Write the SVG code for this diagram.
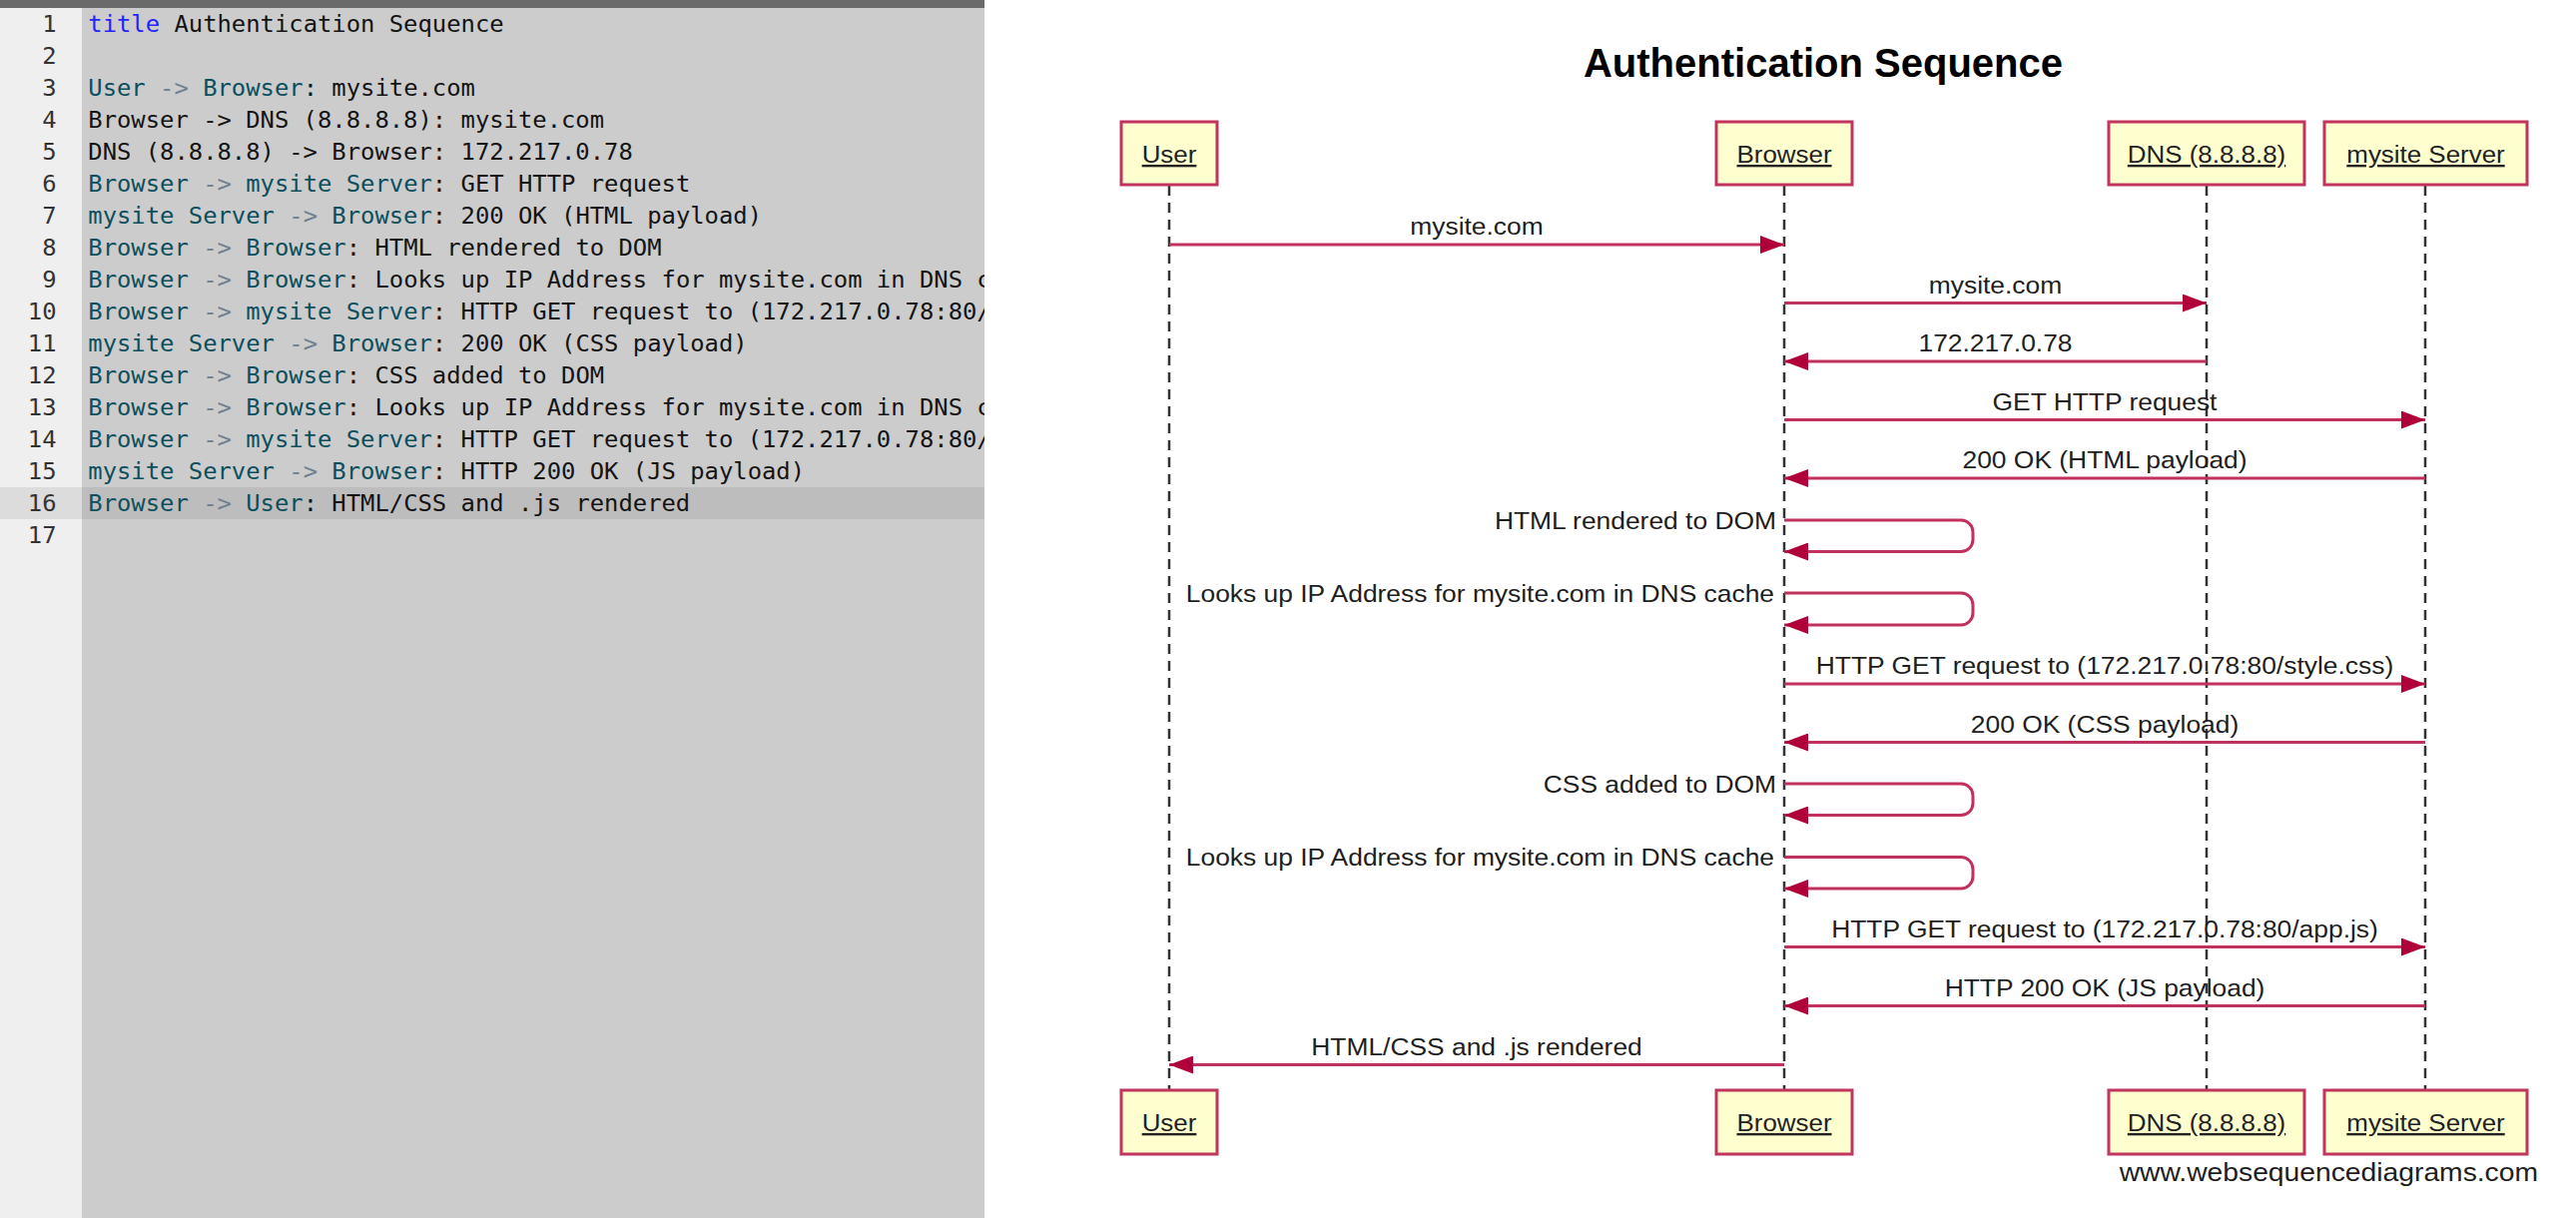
<svg xmlns="http://www.w3.org/2000/svg" width="2580" height="1220" viewBox="0 0 2580 1220">
<style>
.code{font-family:"DejaVu Sans Mono","Liberation Mono",monospace;font-size:23.85px;fill:#141414}
.ln{font-family:"DejaVu Sans Mono","Liberation Mono",monospace;font-size:23.85px;fill:#333333;text-anchor:end}
.kw{fill:#2424ff}
.nm{fill:#0d4f5c}
.op{fill:#6f8090}
.lbl{font-family:"Liberation Sans",Arial,sans-serif;font-size:24px;fill:#1e1e1e}
.mid{text-anchor:middle}
.end{text-anchor:end}
.plbl{font-family:"Liberation Sans",Arial,sans-serif;font-size:24px;fill:#222222;text-anchor:middle;text-decoration:underline}
.title{font-family:"Liberation Sans",Arial,sans-serif;font-size:40px;font-weight:bold;fill:#000000;text-anchor:middle}
.box{fill:#fefece;stroke:#c2335e;stroke-width:3}
.life{stroke:#333333;stroke-width:2.5;stroke-dasharray:10 7;fill:none}
.msg{stroke:#c0325d;stroke-width:3;fill:none;marker-end:url(#ah)}
</style>
<defs>
<marker id="ah" markerWidth="24" markerHeight="18" refX="24" refY="9" orient="auto" markerUnits="userSpaceOnUse">
<path d="M0,0 L24,9 L0,18 Z" fill="#b0003a"/>
</marker>
<clipPath id="codeclip"><rect x="0" y="0" width="986" height="1220"/></clipPath>
</defs>

<g id="editor">
<rect x="0" y="0" width="2580" height="1220" fill="#ffffff"/>
<rect x="0" y="0" width="82" height="1220" fill="#efefef"/>
<rect x="82" y="0" width="904" height="1220" fill="#cccccc"/>
<rect x="0" y="488" width="82" height="32" fill="#dcdcdc"/>
<rect x="82" y="488" width="904" height="32" fill="#bdbdbd"/>
<rect x="0" y="0" width="986" height="8" fill="#6a6a6a"/>
<g id="line-numbers">
<text class="ln" x="56.5" y="31.7">1</text>
<text class="ln" x="56.5" y="63.7">2</text>
<text class="ln" x="56.5" y="95.7">3</text>
<text class="ln" x="56.5" y="127.7">4</text>
<text class="ln" x="56.5" y="159.7">5</text>
<text class="ln" x="56.5" y="191.7">6</text>
<text class="ln" x="56.5" y="223.7">7</text>
<text class="ln" x="56.5" y="255.7">8</text>
<text class="ln" x="56.5" y="287.7">9</text>
<text class="ln" x="56.5" y="319.7">10</text>
<text class="ln" x="56.5" y="351.7">11</text>
<text class="ln" x="56.5" y="383.7">12</text>
<text class="ln" x="56.5" y="415.7">13</text>
<text class="ln" x="56.5" y="447.7">14</text>
<text class="ln" x="56.5" y="479.7">15</text>
<text class="ln" x="56.5" y="511.7">16</text>
<text class="ln" x="56.5" y="543.7">17</text>
</g>
<g id="code-lines" clip-path="url(#codeclip)">
<text class="code" x="88.3" y="31.7"><tspan class="kw">title</tspan> Authentication Sequence</text>
<text class="code" x="88.3" y="95.7"><tspan class="nm">User</tspan><tspan class="op"> -&gt; </tspan><tspan class="nm">Browser</tspan>: mysite.com</text>
<text class="code" x="88.3" y="127.7">Browser -&gt; DNS (8.8.8.8): mysite.com</text>
<text class="code" x="88.3" y="159.7">DNS (8.8.8.8) -&gt; Browser: 172.217.0.78</text>
<text class="code" x="88.3" y="191.7"><tspan class="nm">Browser</tspan><tspan class="op"> -&gt; </tspan><tspan class="nm">mysite Server</tspan>: GET HTTP request</text>
<text class="code" x="88.3" y="223.7"><tspan class="nm">mysite Server</tspan><tspan class="op"> -&gt; </tspan><tspan class="nm">Browser</tspan>: 200 OK (HTML payload)</text>
<text class="code" x="88.3" y="255.7"><tspan class="nm">Browser</tspan><tspan class="op"> -&gt; </tspan><tspan class="nm">Browser</tspan>: HTML rendered to DOM</text>
<text class="code" x="88.3" y="287.7"><tspan class="nm">Browser</tspan><tspan class="op"> -&gt; </tspan><tspan class="nm">Browser</tspan>: Looks up IP Address for mysite.com in DNS c</text>
<text class="code" x="88.3" y="319.7"><tspan class="nm">Browser</tspan><tspan class="op"> -&gt; </tspan><tspan class="nm">mysite Server</tspan>: HTTP GET request to (172.217.0.78:80/</text>
<text class="code" x="88.3" y="351.7"><tspan class="nm">mysite Server</tspan><tspan class="op"> -&gt; </tspan><tspan class="nm">Browser</tspan>: 200 OK (CSS payload)</text>
<text class="code" x="88.3" y="383.7"><tspan class="nm">Browser</tspan><tspan class="op"> -&gt; </tspan><tspan class="nm">Browser</tspan>: CSS added to DOM</text>
<text class="code" x="88.3" y="415.7"><tspan class="nm">Browser</tspan><tspan class="op"> -&gt; </tspan><tspan class="nm">Browser</tspan>: Looks up IP Address for mysite.com in DNS c</text>
<text class="code" x="88.3" y="447.7"><tspan class="nm">Browser</tspan><tspan class="op"> -&gt; </tspan><tspan class="nm">mysite Server</tspan>: HTTP GET request to (172.217.0.78:80/</text>
<text class="code" x="88.3" y="479.7"><tspan class="nm">mysite Server</tspan><tspan class="op"> -&gt; </tspan><tspan class="nm">Browser</tspan>: HTTP 200 OK (JS payload)</text>
<text class="code" x="88.3" y="511.7"><tspan class="nm">Browser</tspan><tspan class="op"> -&gt; </tspan><tspan class="nm">User</tspan>: HTML/CSS and .js rendered</text>
</g>
</g>

<text class="title" x="1826" y="77">Authentication Sequence</text>

<g id="lifelines">
<line class="life" x1="1171" y1="186" x2="1171" y2="1092"/>
<line class="life" x1="1787" y1="186" x2="1787" y2="1092"/>
<line class="life" x1="2210" y1="186" x2="2210" y2="1092"/>
<line class="life" x1="2429" y1="186" x2="2429" y2="1092"/>
</g>

<g id="node-user">
<rect class="box" x="1123" y="122" width="96" height="63"/>
<text class="plbl" transform="translate(1171,163) scale(1.08,1)">User</text>
<rect class="box" x="1123" y="1092" width="96" height="64"/>
<text class="plbl" transform="translate(1171,1133) scale(1.08,1)">User</text>
</g>
<g id="node-browser">
<rect class="box" x="1719" y="122" width="136" height="63"/>
<text class="plbl" transform="translate(1787,163) scale(1.08,1)">Browser</text>
<rect class="box" x="1719" y="1092" width="136" height="64"/>
<text class="plbl" transform="translate(1787,1133) scale(1.08,1)">Browser</text>
</g>
<g id="node-dns">
<rect class="box" x="2112" y="122" width="196" height="63"/>
<text class="plbl" transform="translate(2210,163) scale(1.08,1)">DNS (8.8.8.8)</text>
<rect class="box" x="2112" y="1092" width="196" height="64"/>
<text class="plbl" transform="translate(2210,1133) scale(1.08,1)">DNS (8.8.8.8)</text>
</g>
<g id="node-server">
<rect class="box" x="2328" y="122" width="203" height="63"/>
<text class="plbl" transform="translate(2429.5,163) scale(1.08,1)">mysite Server</text>
<rect class="box" x="2328" y="1092" width="203" height="64"/>
<text class="plbl" transform="translate(2429.5,1133) scale(1.08,1)">mysite Server</text>
</g>

<g id="connectors">
<line class="msg" x1="1171" y1="245" x2="1787" y2="245"/>
<line class="msg" x1="1787" y1="303.5" x2="2210" y2="303.5"/>
<line class="msg" x1="2210" y1="362" x2="1787" y2="362"/>
<line class="msg" x1="1787" y1="420.5" x2="2429" y2="420.5"/>
<line class="msg" x1="2429" y1="479" x2="1787" y2="479"/>
<path class="msg" d="M1787,521 H1964 A12,12 0 0 1 1976,533 V540.5 A12,12 0 0 1 1964,552.5 H1787"/>
<path class="msg" d="M1787,594 H1964 A12,12 0 0 1 1976,606 V614 A12,12 0 0 1 1964,626 H1787"/>
<line class="msg" x1="1787" y1="685" x2="2429" y2="685"/>
<line class="msg" x1="2429" y1="743.5" x2="1787" y2="743.5"/>
<path class="msg" d="M1787,785 H1964 A12,12 0 0 1 1976,797 V804.5 A12,12 0 0 1 1964,816.5 H1787"/>
<path class="msg" d="M1787,858.5 H1964 A12,12 0 0 1 1976,870.5 V878 A12,12 0 0 1 1964,890 H1787"/>
<line class="msg" x1="1787" y1="948.5" x2="2429" y2="948.5"/>
<line class="msg" x1="2429" y1="1007.5" x2="1787" y2="1007.5"/>
<line class="msg" x1="1787" y1="1066.5" x2="1171" y2="1066.5"/>
</g>

<g id="connector-labels">
<text class="lbl mid" transform="translate(1479,235) scale(1.1,1)">mysite.com</text>
<text class="lbl mid" transform="translate(1998.5,293.5) scale(1.1,1)">mysite.com</text>
<text class="lbl mid" transform="translate(1998.5,352) scale(1.1,1)">172.217.0.78</text>
<text class="lbl mid" transform="translate(2108,410.5) scale(1.1,1)">GET HTTP request</text>
<text class="lbl mid" transform="translate(2108,469) scale(1.1,1)">200 OK (HTML payload)</text>
<text class="lbl end" transform="translate(1779,529.5) scale(1.1,1)">HTML rendered to DOM</text>
<text class="lbl end" transform="translate(1777,603) scale(1.1,1)">Looks up IP Address for mysite.com in DNS cache</text>
<text class="lbl mid" transform="translate(2108,675) scale(1.1,1)">HTTP GET request to (172.217.0.78:80/style.css)</text>
<text class="lbl mid" transform="translate(2108,733.5) scale(1.1,1)">200 OK (CSS payload)</text>
<text class="lbl end" transform="translate(1779,793.5) scale(1.1,1)">CSS added to DOM</text>
<text class="lbl end" transform="translate(1777,867) scale(1.1,1)">Looks up IP Address for mysite.com in DNS cache</text>
<text class="lbl mid" transform="translate(2108,938.5) scale(1.1,1)">HTTP GET request to (172.217.0.78:80/app.js)</text>
<text class="lbl mid" transform="translate(2108,997.5) scale(1.1,1)">HTTP 200 OK (JS payload)</text>
<text class="lbl mid" transform="translate(1479,1056.5) scale(1.1,1)">HTML/CSS and .js rendered</text>
</g>

<text class="lbl end" transform="translate(2542,1183) scale(1.1,1)" style="font-size:25.7px">www.websequencediagrams.com</text>
</svg>
